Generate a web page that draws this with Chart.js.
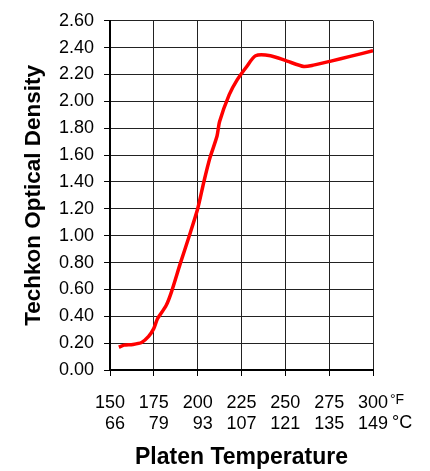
<!DOCTYPE html>
<html>
<head>
<meta charset="utf-8">
<script src="https://cdn.jsdelivr.net/npm/chart.js@4"></script>
<style>
  html, body { margin: 0; padding: 0; background: #fff; }
  #wrap { width: 430px; height: 471px; position: relative; }
</style>
</head>
<body>
<div id="wrap"><canvas id="densityChart"></canvas></div>
<script>
// platen temperature (°F) vs measured density
const tempF = [155, 158, 163, 168, 172, 175, 177, 182, 185, 190, 195, 200, 203.5, 207, 211, 212.5, 218, 222.5, 228, 233, 241.5, 251, 260.5, 266, 276, 287, 300];
const density = [0.17, 0.185, 0.19, 0.205, 0.25, 0.31, 0.38, 0.48, 0.58, 0.79, 0.99, 1.20, 1.40, 1.58, 1.74, 1.85, 2.05, 2.16, 2.26, 2.34, 2.34, 2.30, 2.26, 2.27, 2.30, 2.335, 2.377];

// x tick labels: fahrenheit on top line, celsius below
const ticksF = [150, 175, 200, 225, 250, 275, 300];
const ticksC = [66, 79, 93, 107, 121, 135, 149];

const fontFam = '"Liberation Sans", Arial, sans-serif';
const tickSize = 18;
const tickLine = 1.15;
const tickPad = 17;

// °F / °C written after the last tick label
const unitLabels = {
    id: 'unitLabels',
    afterDraw(chart) {
        const ctx = chart.ctx;
        const xs = chart.scales.x;
        const last = ticksF.length - 1;
        const x = xs.getPixelForValue(ticksF[last]);
        const y = xs.top + 6 + tickPad;
        ctx.save();
        ctx.fillStyle = '#000';
        ctx.textAlign = 'left';
        ctx.textBaseline = 'top';
        ctx.font = tickSize + 'px ' + fontFam;
        const w1 = ctx.measureText(String(ticksF[last])).width;
        const w2 = ctx.measureText(String(ticksC[last])).width;
        ctx.font = '14px ' + fontFam;
        ctx.fillText('°F', x + w1 / 2 + 2, y);
        ctx.font = tickSize + 'px ' + fontFam;
        ctx.fillText('°C', x + w2 / 2 + 4, y + tickSize * tickLine);
        ctx.restore();
    }
};

new Chart(document.getElementById('densityChart'), {
    type: 'line',
    data: {
        datasets: [{
            data: tempF.map((t, i) => ({ x: t, y: density[i] })),
            borderColor: '#ff0000',
            borderWidth: 3.5,
            pointRadius: 0,
            tension: 0.25,
            fill: false
        }]
    },
    options: {
        responsive: true,
        maintainAspectRatio: false,
        animation: false,
        layout: {
            padding: { left: 20, right: 57, top: 10, bottom: 0 }
        },
        plugins: {
            legend: { display: false },
            tooltip: { enabled: false }
        },
        scales: {
            x: {
                type: 'linear',
                min: 150,
                max: 300,
                afterBuildTicks: (axis) => {
                    axis.ticks = ticksF.map(v => ({ value: v }));
                },
                ticks: {
                    color: '#000',
                    padding: tickPad,
                    maxRotation: 0,
                    font: { family: fontFam, size: tickSize, lineHeight: tickLine },
                    callback: (v) => {
                        const i = ticksF.indexOf(v);
                        const c = String(ticksC[i]);
                        return [String(v), c.length < 3 ? '\u2007' + c : c];
                    }
                },
                grid: { color: '#222', lineWidth: 1, tickLength: 6, tickColor: '#000' },
                border: { color: '#000', width: 2 },
                title: {
                    display: true,
                    text: 'Platen Temperature',
                    color: '#000',
                    font: { family: fontFam, size: 23, weight: 'bold' },
                    padding: { top: -8, bottom: 0 }
                }
            },
            y: {
                min: 0,
                max: 2.6,
                ticks: {
                    stepSize: 0.2,
                    color: '#000',
                    padding: 10,
                    font: { family: fontFam, size: 18 },
                    callback: (v) => v.toFixed(2)
                },
                grid: { color: '#222', lineWidth: 1, tickLength: 6, tickColor: '#000' },
                border: { color: '#000', width: 2 },
                title: {
                    display: true,
                    text: 'Techkon Optical Density',
                    color: '#000',
                    font: { family: fontFam, size: 22.5, weight: 'bold' },
                    padding: { top: 0, bottom: 2 }
                }
            }
        }
    },
    plugins: [unitLabels]
});
</script>
</body>
</html>
